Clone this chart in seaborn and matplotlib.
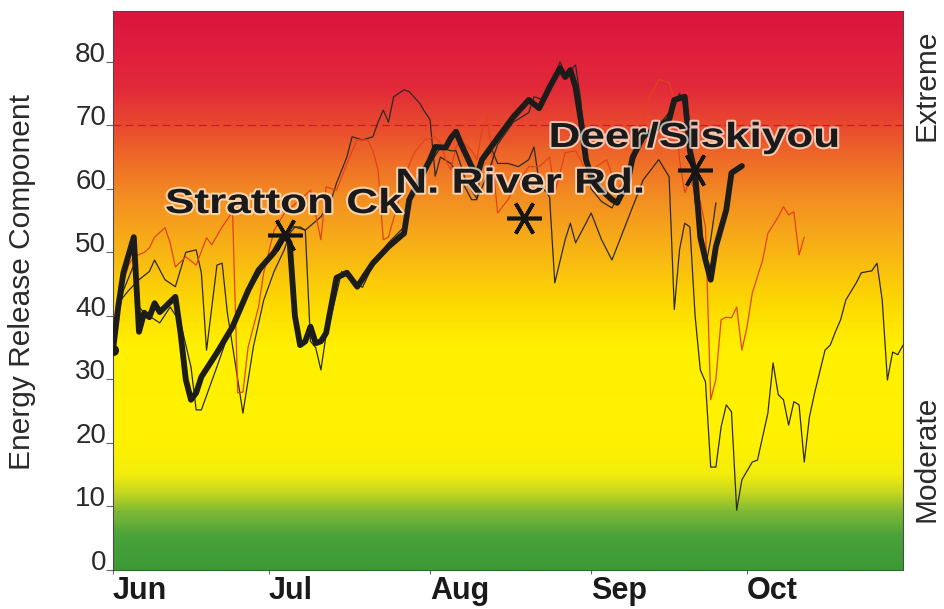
import numpy as np
import pandas as pd
import matplotlib
matplotlib.use("Agg")
import matplotlib.pyplot as plt
import seaborn as sns
from matplotlib.colors import LinearSegmentedColormap
from matplotlib import patheffects as pe
from matplotlib.transforms import Affine2D

# ---------------- data (day 0 = Jun 1, day 152 = Oct 31) ----------------
month_labels = ["Jun", "Jul", "Aug", "Sep", "Oct"]
month_start_day = [0, 30, 61, 92, 122]
season_end_day = 152
y_ticks = [0, 10, 20, 30, 40, 50, 60, 70, 80]
y_max = 88
extreme_threshold = 70

# thick black line (current season)
cur_day = [0, 1, 2, 4, 5, 6, 7, 8, 9, 10, 12, 13, 14, 15, 16, 17, 20, 23, 26, 28,
           31, 33, 34, 35, 36, 37, 38, 39, 40, 41, 43, 45, 47, 50, 53, 56, 57, 59, 61, 62,
           64, 65, 66, 67, 69, 70, 71, 74, 77, 80, 82, 84, 86, 87, 88, 89, 90, 91, 92, 94,
           96, 97, 99, 100, 102, 105, 107, 108, 110, 111, 112, 113, 114, 115, 116, 118, 119, 121]
cur_erc = [34.6, 41.4, 46.8, 52.4, 37.5, 40.5, 39.8, 42.0, 40.6, 41.4, 43.0, 37.3, 30.0, 26.8, 27.9, 30.4, 34.2, 38.3, 44.0, 47.2,
           50.0, 52.8, 51.5, 40.0, 35.4, 36.0, 38.3, 35.7, 36.0, 37.3, 46.0, 46.8, 44.6, 48.3, 50.9, 53.0, 58.3, 61.4, 64.6, 66.6,
           66.5, 68.0, 69.0, 67.0, 63.5, 62.0, 64.6, 68.0, 71.3, 74.0, 72.7, 76.0, 79.0, 77.6, 78.7, 76.0, 70.9, 64.6, 62.0, 59.8,
           58.3, 57.8, 61.0, 65.0, 68.2, 69.8, 70.9, 74.0, 74.5, 66.0, 62.5, 52.4, 48.8, 45.7, 50.9, 56.7, 62.5, 63.6]

# thin red line
red_day = [0, 1, 3, 4, 6, 7, 8, 10, 11, 12, 14, 16, 18, 19, 21, 23, 24, 25, 26, 28,
           29, 31, 33, 36, 38, 40, 41, 43, 46, 47, 49, 50, 51, 52, 53, 55, 56, 58, 60, 62,
           63, 64, 65, 66, 67, 69, 70, 71, 72, 73, 74, 76, 77, 80, 82, 84, 85, 86, 87, 89,
           90, 91, 93, 95, 97, 99, 101, 103, 105, 107, 108, 109, 110, 111, 113, 114, 115, 116, 117, 118,
           119, 120, 121, 122, 123, 125, 126, 128, 129, 130, 131, 132, 133]
red_erc = [35.4, 42.5, 48.0, 49.3, 50.0, 50.7, 52.4, 53.9, 51.5, 47.7, 49.3, 48.0, 52.3, 51.2, 54.0, 56.4, 27.9, 28.0, 35.1, 41.4,
           46.8, 53.5, 56.2, 58.3, 59.8, 52.0, 60.3, 59.8, 66.0, 67.7, 67.7, 66.0, 63.0, 52.0, 52.4, 58.3, 61.9, 65.7, 67.7, 68.2,
           67.2, 64.6, 63.0, 66.6, 67.7, 66.0, 64.6, 69.3, 71.3, 64.6, 56.2, 58.3, 59.8, 63.5, 63.5, 65.0, 59.4, 62.5, 65.7, 66.0,
           64.6, 62.5, 63.5, 64.6, 59.8, 62.0, 67.7, 74.0, 77.2, 76.7, 74.0, 64.6, 59.4, 61.4, 58.0, 54.0, 26.8, 30.0, 39.4, 39.8,
           39.7, 41.4, 34.6, 38.3, 43.6, 48.8, 53.0, 55.6, 57.2, 55.9, 56.4, 49.6, 52.4]

# thin dark line spanning the whole season
dark_day = [0, 1, 3, 5, 7, 8, 10, 12, 14, 16, 17, 18, 20, 21, 22, 24, 25, 27, 29, 31,
            33, 34, 35, 37, 40, 42, 43, 45, 46, 48, 50, 51, 52, 53, 54, 56, 57, 59, 60, 61,
            62, 63, 65, 67, 69, 70, 71, 73, 74, 76, 78, 80, 81, 82, 84, 85, 87, 88, 89, 91,
            92, 94, 96, 99, 102, 105, 107, 108, 109, 110, 111, 112, 113, 114, 115, 116, 117, 118, 119, 120,
            121, 123, 124, 126, 127, 128, 129, 130, 131, 132, 133, 134, 135, 137, 138, 139, 140, 141, 143, 144,
            146, 147, 148, 149, 150, 151, 152]
dark_erc = [36.0, 42.0, 44.0, 45.7, 47.0, 48.8, 45.7, 44.6, 50.0, 50.4, 46.8, 34.6, 48.0, 48.3, 40.5, 30.0, 24.7, 35.1, 42.5, 47.0,
            50.5, 53.0, 54.0, 53.5, 55.6, 58.3, 60.9, 65.0, 68.2, 67.7, 68.2, 70.5, 72.4, 70.5, 74.5, 75.6, 75.3, 73.5, 72.1, 70.9,
            62.0, 65.0, 64.0, 61.4, 58.3, 58.3, 64.6, 66.0, 64.0, 64.0, 63.5, 64.6, 66.6, 61.0, 58.7, 45.2, 52.0, 54.6, 51.5, 54.6,
            56.2, 52.0, 48.8, 55.1, 61.4, 64.6, 61.9, 41.0, 50.4, 54.6, 54.0, 40.0, 31.5, 29.6, 16.2, 16.2, 22.5, 26.0, 24.9, 9.4,
            14.2, 17.0, 17.3, 24.7, 32.6, 27.6, 26.8, 22.8, 26.5, 26.0, 17.0, 24.1, 27.9, 34.6, 35.4, 37.5, 39.4, 42.5, 45.2, 46.8,
            47.1, 48.3, 42.5, 29.9, 34.3, 33.9, 35.4]

# thin dark line closely following the current season
comp_day = [0, 1, 2, 4, 5, 6, 9, 11, 13, 15, 16, 17, 20, 22, 24, 27, 30, 33, 34, 36,
            37, 38, 39, 40, 41, 42, 44, 46, 48, 50, 53, 56, 58, 61, 63, 65, 66, 68, 70, 72,
            74, 77, 80, 81, 83, 85, 86, 87, 89, 90, 91, 92, 94, 96, 98, 100, 102, 105, 107, 109,
            110, 111, 112, 114, 115, 116]
comp_erc = [35.0, 40.0, 44.0, 48.0, 41.4, 40.5, 38.9, 41.4, 38.9, 32.0, 25.2, 25.2, 32.0, 36.7, 41.0, 45.0, 49.0, 52.5, 54.0, 54.0,
            53.5, 36.0, 35.0, 31.5, 37.0, 40.0, 47.0, 45.5, 44.5, 48.0, 51.5, 54.0, 60.0, 64.0, 66.5, 66.0, 66.0, 61.0, 58.5, 62.0,
            67.0, 70.5, 72.0, 74.5, 74.0, 77.5, 80.0, 78.0, 79.5, 74.0, 64.0, 60.0, 58.0, 57.0, 60.0, 64.0, 68.0, 70.0, 72.0, 75.0,
            73.0, 66.0, 58.0, 47.7, 52.0, 57.8]

# fire starts
fire_names = ["Stratton Ck", "N. River Rd.", "Deer/Siskiyou"]
fire_day = [33, 79, 112]
fire_erc = [52.8, 55.4, 63.0]
fire_label_day = [10.0, 54.3, 83.8]
fire_label_erc = [56.2, 59.4, 66.6]

# ---------------- style ----------------
sns.set_style("ticks")
plt.rcParams["font.family"] = ["Liberation Sans", "DejaVu Sans"]

fig = plt.figure(figsize=(9.45, 6.09), dpi=100)
fig.patch.set_facecolor("white")
ax = fig.add_axes([113 / 945, 39 / 609, 790 / 945, 559 / 609])

# background gradient (green -> yellow -> orange -> red)
stops = [(0, "#3c9a36"), (5, "#49a23a"), (9, "#7db833"), (12, "#c6d820"), (15, "#f3ed0c"),
         (20, "#fff200"), (35, "#fff000"), (42, "#fdd902"), (50, "#f8b514"), (58, "#f39121"),
         (65, "#ee6a28"), (70, "#e84a2e"), (76, "#e22a3a"), (88, "#dc143f")]
cmap = LinearSegmentedColormap.from_list("erc", [(v / y_max, c) for v, c in stops])
grad = np.linspace(0, y_max, 500).reshape(-1, 1)
ax.imshow(grad, extent=[0, season_end_day, 0, y_max], origin="lower", aspect="auto",
          cmap=cmap, vmin=0, vmax=y_max, zorder=0, interpolation="bilinear")

ax.axhline(extreme_threshold, color="#c81a22", lw=0.8, ls=(0, (7, 4)), zorder=1)

sns.lineplot(x=dark_day, y=dark_erc, ax=ax, color="#2e2a22", lw=0.9, estimator=None, sort=False, zorder=2)
sns.lineplot(x=red_day, y=red_erc, ax=ax, color="#e2431c", lw=0.9, estimator=None, sort=False, zorder=2)
sns.lineplot(x=comp_day, y=comp_erc, ax=ax, color="#2a2a22", lw=0.9, estimator=None, sort=False, zorder=2)
sns.lineplot(x=cur_day, y=cur_erc, ax=ax, color="#1c1c1a", lw=4.2, estimator=None, sort=False, zorder=3,
             solid_joinstyle="round", solid_capstyle="round")
ax.plot(cur_day[:1], cur_erc[:1], "o", color="#1c1c1a", ms=7, zorder=3)

# fire start markers
ax.plot(fire_day, fire_erc, ls="none", marker=(6, 2, 90), ms=25, mew=2.6, color="#151515", zorder=4)


class HStretch(pe.AbstractPathEffect):
    """Draw the glyph path stretched horizontally (wide bold lettering)."""

    def __init__(self, sx, effects):
        super().__init__()
        self._sx = sx
        self._effects = effects

    def draw_path(self, renderer, gc, tpath, affine, rgbFace=None):
        aff = Affine2D().scale(self._sx, 1.0) + affine
        for eff in self._effects:
            eff.draw_path(renderer, gc, tpath, aff, rgbFace)


for name, dx, dy in zip(fire_names, fire_label_day, fire_label_erc):
    ax.text(dx, dy, name, fontsize=25, fontweight="bold", color="#1a1a1a",
            ha="left", va="baseline", zorder=5,
            path_effects=[HStretch(1.27, [pe.Stroke(linewidth=3.0, foreground=(1, 0.95, 0.9, 0.7)),
                                          pe.Normal()])])

# axes
ax.set_xlim(0, season_end_day)
ax.set_ylim(0, y_max)
ax.set_xticks(month_start_day)
ax.set_xticklabels(month_labels, fontsize=22, fontweight="bold", color="#1a1a1a", ha="left")
ax.set_yticks(y_ticks)
ax.set_yticklabels([str(t) for t in y_ticks], fontsize=20, color="#2a2a2a", va="baseline")
ax.tick_params(axis="y", length=5, width=0.8, color="#666666", pad=0)
ax.tick_params(axis="x", length=3, width=0.8, color="#666666", pad=1)
for s in ax.spines.values():
    s.set_color("#4a4a4a")
    s.set_linewidth(0.8)
ax.spines["bottom"].set_color("#2d6b2a")

ax.set_xlabel("")
ax.set_ylabel("Energy Release Component", fontsize=21.5, color="#2a2a2a")
ax.yaxis.label.set_rotation_mode("default")
ax.yaxis.label.set_va("center")
ax.yaxis.label.set_ha("center")
ax.yaxis.set_label_coords((22 - 113) / 790, (570 - 282) / 559)

fig.text(927 / 945, 1 - 85 / 609, "Extreme", rotation=90, ha="center", va="center",
         fontsize=21.5, color="#2a2a2a")
fig.text(927 / 945, 1 - 459 / 609, "Moderate", rotation=90, ha="center", va="center",
         fontsize=21.5, color="#2a2a2a")

fig.savefig("out.png", dpi=100, facecolor="white")
